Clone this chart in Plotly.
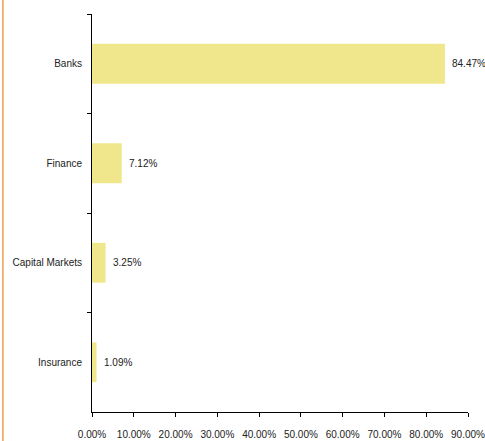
import plotly.graph_objects as go

categories = ["Banks", "Finance", "Capital Markets", "Insurance"]
values = [84.47, 7.12, 3.25, 1.09]
x_ticks = [0, 10, 20, 30, 40, 50, 60, 70, 80, 90]
x_tick_labels = [f"{v:.2f}%" for v in x_ticks]
value_labels = [f"{v:.2f}%" for v in values]

FONT = "Liberation Sans, Arial, sans-serif"
TXT = "#222222"

fig = go.Figure()
fig.add_trace(go.Bar(
    x=values,
    y=categories,
    orientation="h",
    width=0.4,
    marker=dict(color="#F0E68C", line=dict(width=0)),
    hoverinfo="skip",
))

for v, c, t in zip(values, categories, value_labels):
    fig.add_annotation(
        x=v, y=c, text=t, showarrow=False,
        xanchor="left", yanchor="middle", xshift=5,
        font=dict(family=FONT, size=10, color=TXT),
    )

fig.update_layout(
    width=485,
    height=441,
    margin=dict(l=92, r=17, t=14, b=29),
    paper_bgcolor="white",
    plot_bgcolor="white",
    showlegend=False,
    font=dict(family=FONT, size=10, color=TXT),
    bargap=0.6,
    shapes=[dict(
        type="line", xref="paper", yref="paper",
        x0=-0.237, x1=-0.237, y0=-0.1, y1=1.1,
        line=dict(color="#F0A050", width=1.5),
    )],
)

fig.update_xaxes(
    range=[0, 90],
    tickvals=x_ticks,
    ticktext=x_tick_labels,
    ticks="outside",
    ticklen=4,
    tickcolor="#000000",
    showline=True,
    linecolor="#000000",
    linewidth=1,
    showgrid=False,
    zeroline=False,
    automargin=False,
    ticklabeloverflow="allow",
    ticklabelstandoff=9,
    tickfont=dict(family=FONT, size=10, color=TXT),
)

fig.update_yaxes(
    categoryorder="array",
    categoryarray=categories,
    autorange="reversed",
    ticks="outside",
    tickson="boundaries",
    ticklen=4,
    tickcolor="#000000",
    showline=True,
    linecolor="#000000",
    linewidth=1,
    showgrid=False,
    zeroline=False,
    automargin=False,
    ticklabelstandoff=7,
    tickfont=dict(family=FONT, size=10, color=TXT),
)

fig.write_html(
    "out.html",
    config={"displayModeBar": False},
    post_script="document.body.style.margin='0';",
)
